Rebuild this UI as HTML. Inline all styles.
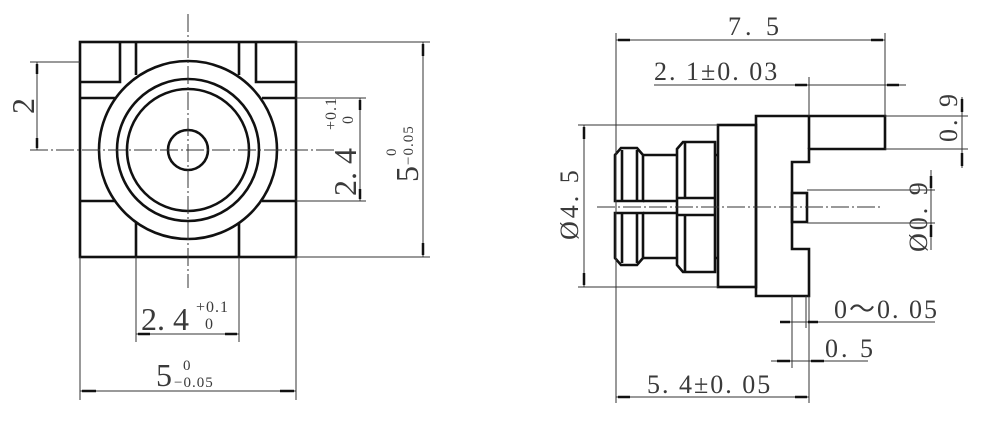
<!DOCTYPE html>
<html><head><style>
html,body{margin:0;padding:0;background:#fff;}
svg{display:block;}
text{font-family:"Liberation Serif",serif;fill:#3a3a3a;}
</style></head><body>
<svg width="1000" height="434" viewBox="0 0 1000 434" xmlns="http://www.w3.org/2000/svg">
<g fill="none" stroke="#111" stroke-width="2.6">
  <rect x="80" y="42" width="216" height="215"/>
  <path d="M120,42 V82 H80 M256,42 V82 H296 M136,42 V75 M239,42 V75"/>
  <path d="M80,98 H115 M262,98 H296 M80,201 H115 M262,201 H296"/>
  <path d="M136,223 V257 M239,223 V257"/>
  <circle cx="188" cy="150" r="89"/>
  <circle cx="188" cy="150" r="71"/>
  <circle cx="188" cy="150" r="61"/>
  <circle cx="188" cy="150" r="20"/>

  <path d="M756,116 H885 V149 H809 V162 H792 V249 H809 V296 H756 Z"/>
  <path d="M809,116 V149"/>
  <rect x="792" y="193" width="15" height="29"/>
  <rect x="718" y="125" width="38" height="162"/>
  <path d="M615,201 V155 L621,148 H637 L643,155 V201 Z"/>
  <path d="M615,213 V258 L621,265 H637 L643,258 V213 Z"/>
  <path d="M622,150 V201 M637,150 V201 M622,213 V263 M637,213 V263"/>
  <path d="M643,155 H677 M643,258 H677 M643,201 H677 M643,213 H677"/>
  <path d="M677,149 L683,142 H715 V272 H683 L677,265 Z"/>
  <path d="M685,142 V198 M685,215 V272 M677,198 H715 M677,215 H715"/>
  <path d="M715,155 H718 M715,258 H718"/>
</g>
<g fill="none" stroke="#333" stroke-width="1">
  <path d="M188,14 V288" stroke-dasharray="18,3,2,3"/>
  <path d="M30,150 H335" stroke-dasharray="18,3,2,3"/>
  <path d="M30,62 H80 M37,62 V150"/>
  <path d="M296,98 H366 M296,201 H366 M360,98 V201"/>
  <path d="M296,42 H430 M296,257 H430 M423,42 V257"/>
  <path d="M136,257 V342 M239,257 V342 M136,334 H239"/>
  <path d="M80,257 V400 M296,257 V400 M80,391 H296"/>

  <path d="M597,207 H880" stroke-dasharray="18,3,2,3"/>
  <path d="M616,33 V403 M885,33 V116 M616,40 H885"/>
  <path d="M654,85 H906 M809,77 V116"/>
  <path d="M578,125 H718 M578,287 H718 M584,125 V287"/>
  <path d="M885,116 H968 M885,149 H968 M962,97 V168"/>
  <path d="M807,190 H935 M807,223 H935 M931,170 V250"/>
  <path d="M792,296 V368 M806,296 V328 M783,322 H935"/>
  <path d="M809,296 V403 M771,361 H868"/>
  <path d="M616,397 H809"/>
</g>
<g stroke="#111" stroke-width="2.5">
  <path d="M37,64 V74 M37,138 V148"/>
  <path d="M360,100 V110 M360,189 V199"/>
  <path d="M423,44 V56 M423,243 V255"/>
  <path d="M138,334 H150 M225,334 H237"/>
  <path d="M82,391 H96 M280,391 H294"/>
  <path d="M618,40 H630 M871,40 H883"/>
  <path d="M795,85 H807 M887,85 H899"/>
  <path d="M584,127 V139 M584,273 V285"/>
  <path d="M962,99 V112 M962,153 V166"/>
  <path d="M931,176 V188 M931,225 V237"/>
  <path d="M780,322 H790 M808,322 H818"/>
  <path d="M777,361 H790 M811,361 H824"/>
  <path d="M618,397 H630 M795,397 H807"/>
</g>
<g font-size="32">
  <text transform="translate(34,106) rotate(-90)" text-anchor="middle">2</text>
  <text transform="translate(356,196) rotate(-90)">2. 4</text>
  <text transform="translate(336,130) rotate(-90)" font-size="16" letter-spacing="1">+0.1</text>
  <text transform="translate(353,124) rotate(-90)" font-size="16">0</text>
  <text transform="translate(418,182) rotate(-90)">5</text>
  <text transform="translate(396,156) rotate(-90)" font-size="15">0</text>
  <text transform="translate(413,165) rotate(-90)" font-size="15" letter-spacing="1">−0.05</text>
  <text x="141" y="330">2. 4</text>
  <text x="196" y="312" font-size="16" letter-spacing="1">+0.1</text>
  <text x="205" y="329" font-size="16">0</text>
  <text x="156" y="386">5</text>
  <text x="183" y="370" font-size="15">0</text>
  <text x="174" y="387" font-size="15" letter-spacing="1">−0.05</text>

  <text x="728" y="35" font-size="26" letter-spacing="4">7. 5</text>
  <text x="654" y="80" font-size="26" letter-spacing="2">2. 1±0. 03</text>
  <text transform="translate(578,240) rotate(-90)" font-size="26" letter-spacing="3">Ø4. 5</text>
  <text transform="translate(957,142) rotate(-90)" font-size="26" letter-spacing="3">0. 9</text>
  <text transform="translate(927,252) rotate(-90)" font-size="26" letter-spacing="3">Ø0. 9</text>
  <text x="834" y="318" font-size="26" letter-spacing="2">0～0. 05</text>
  <text x="825" y="357" font-size="26" letter-spacing="3">0. 5</text>
  <text x="647" y="393" font-size="26" letter-spacing="2">5. 4±0. 05</text>
</g>
</svg>
</body></html>
